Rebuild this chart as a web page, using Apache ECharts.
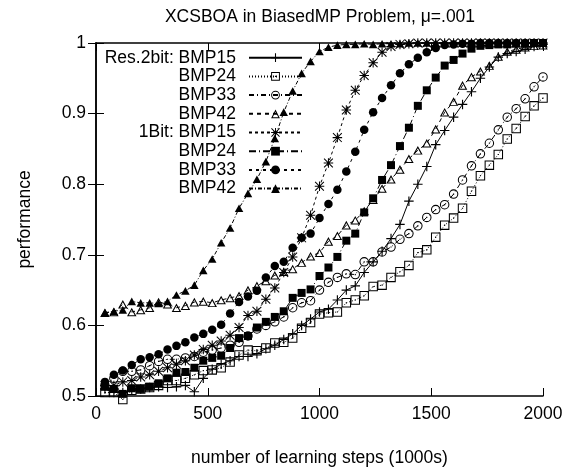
<!DOCTYPE html>
<html><head><meta charset="utf-8">
<script src="https://cdn.jsdelivr.net/npm/echarts@6/dist/echarts.min.js"></script>
<style>html,body{margin:0;padding:0;background:#fff}#c{width:575px;height:472px}</style>
</head><body><div id="c"></div>
<script>
const titleText = 'XCSBOA in BiasedMP Problem, \u03bc=.001';
const xName = 'number of learning steps (1000s)';
const yName = 'performance';
const xs = [40,80,120,160,200,240,280,320,360,400,440,480,520,560,600,640,680,720,760,800,840,880,920,960,1000,1040,1080,1120,1160,1200,1240,1280,1320,1360,1400,1440,1480,1520,1560,1600,1640,1680,1720,1760,1800,1840,1880,1920,1960,2000];
const seriesNames = ['Res.2bit: BMP15','Res.2bit: BMP24','Res.2bit: BMP33','Res.2bit: BMP42','1Bit: BMP15','1Bit: BMP24','1Bit: BMP33','1Bit: BMP42'];
const legendLabels = ['Res.2bit: BMP15','BMP24','BMP33','BMP42','1Bit: BMP15','BMP24','BMP33','BMP42'];
const res2_bmp15 = [0.510,0.505,0.505,0.508,0.510,0.512,0.513,0.512,0.513,0.515,
0.506,0.525,0.538,0.545,0.550,0.556,0.556,0.560,0.567,0.572,
0.580,0.588,0.600,0.609,0.619,0.623,0.636,0.650,0.656,0.675,
0.690,0.705,0.723,0.743,0.776,0.800,0.825,0.856,0.876,0.895,
0.913,0.931,0.950,0.966,0.980,0.985,0.988,0.991,0.995,0.998];
const res2_bmp24 = [0.505,0.505,0.495,0.508,0.510,0.512,0.515,0.522,0.522,0.525,
0.530,0.536,0.537,0.540,0.548,0.558,0.565,0.564,0.568,0.575,
0.576,0.582,0.596,0.604,0.616,0.618,0.619,0.632,0.636,0.642,
0.655,0.657,0.668,0.676,0.685,0.703,0.707,0.725,0.742,0.752,
0.766,0.790,0.812,0.827,0.842,0.864,0.879,0.896,0.911,0.922];
const res2_bmp33 = [0.515,0.525,0.535,0.535,0.537,0.543,0.549,0.552,0.552,0.554,
0.556,0.562,0.565,0.568,0.572,0.576,0.585,0.595,0.600,0.605,
0.612,0.625,0.632,0.635,0.650,0.661,0.668,0.673,0.672,0.690,
0.690,0.704,0.711,0.722,0.730,0.741,0.753,0.764,0.771,0.786,
0.806,0.826,0.843,0.858,0.877,0.895,0.907,0.921,0.938,0.952];
const res2_bmp42 = [0.618,0.619,0.630,0.619,0.622,0.625,0.633,0.630,0.625,0.628,
0.633,0.634,0.632,0.636,0.639,0.642,0.650,0.656,0.663,0.671,
0.676,0.680,0.689,0.698,0.703,0.719,0.727,0.742,0.749,0.762,
0.778,0.794,0.807,0.821,0.836,0.848,0.858,0.878,0.902,0.917,
0.940,0.952,0.960,0.968,0.981,0.988,0.991,0.994,0.996,0.997];
const bit1_bmp15 = [0.515,0.515,0.520,0.522,0.527,0.530,0.535,0.540,0.545,0.550,
0.558,0.566,0.572,0.578,0.586,0.597,0.614,0.620,0.637,0.653,
0.675,0.697,0.724,0.756,0.797,0.830,0.866,0.905,0.933,0.954,
0.972,0.987,0.995,0.998,0.999,1,1,1,1,1,
1,1,1,1,1,1,1,1,1,1];
const bit1_bmp24 = [0.513,0.510,0.503,0.511,0.510,0.513,0.518,0.525,0.533,0.534,
0.540,0.550,0.554,0.557,0.568,0.582,0.585,0.597,0.605,0.612,
0.620,0.639,0.646,0.651,0.670,0.682,0.697,0.720,0.730,0.760,
0.780,0.806,0.827,0.854,0.880,0.911,0.933,0.951,0.968,0.976,
0.985,0.992,0.996,0.997,0.998,0.998,0.999,0.999,1,1];
const bit1_bmp33 = [0.520,0.530,0.536,0.544,0.552,0.555,0.559,0.566,0.571,0.576,
0.583,0.588,0.594,0.601,0.617,0.633,0.641,0.649,0.668,0.684,
0.690,0.710,0.724,0.730,0.752,0.772,0.792,0.818,0.846,0.877,
0.902,0.922,0.940,0.957,0.970,0.979,0.987,0.993,0.997,0.998,
0.999,0.999,1,1,1,1,1,1,1,1];
const bit1_bmp42 = [0.618,0.620,0.622,0.634,0.632,0.632,0.631,0.634,0.643,0.649,
0.657,0.678,0.694,0.717,0.738,0.766,0.787,0.807,0.832,0.865,
0.902,0.932,0.957,0.974,0.988,0.994,0.997,0.998,0.998,0.999,
0.998,0.999,0.999,0.999,1,1,1,1,1,1,
1,1,1,1,1,1,1,1,1,1];
const yTicks = [0.5,0.6,0.7,0.8,0.9,1];
const xTicks = [0,500,1000,1500,2000];

const allData = [res2_bmp15,res2_bmp24,res2_bmp33,res2_bmp42,bit1_bmp15,bit1_bmp24,bit1_bmp33,bit1_bmp42];

const P_PLUS = 'path://M4.4,0 h1.2 v4.4 h4.4 v1.2 h-4.4 v4.4 h-1.2 v-4.4 h-4.4 v-1.2 h4.4 Z';
const P_STAR = 'path://M4.45,0 h1.1 v4.45 h4.45 v1.1 h-4.45 v4.45 h-1.1 v-4.45 h-4.45 v-1.1 h4.45 Z M0.75,0 L10,9.25 L9.25,10 L0,0.75 Z M9.25,0 L10,0.75 L0.75,10 L0,9.25 Z';
const P_OSQ = 'path://M0,0 H10 V10 H0 Z M1.1,1.1 V8.9 H8.9 V1.1 Z M4.4,4.4 H5.6 V5.6 H4.4 Z';
const P_OCIR = 'path://M5,0 A5,5 0 1,1 5,10 A5,5 0 1,1 5,0 Z M5,1.1 A3.9,3.9 0 1,0 5,8.9 A3.9,3.9 0 1,0 5,1.1 Z M4.4,4.4 H5.6 V5.6 H4.4 Z';
const P_OTRI = 'path://M5,0 L10,9 L0,9 Z M5,2.3 L1.9,8 L8.1,8 Z';
const P_FTRI = 'path://M5,0 L10,9 L0,9 Z';

const styles = [
  {symbol: P_PLUS, size: 9.5, dash: 'solid'},
  {symbol: P_OSQ, size: 9.5, dash: [1,2]},
  {symbol: P_OCIR, size: 9.5, dash: [5,3,1,3]},
  {symbol: P_OTRI, size: 9.5, dash: [4,4]},
  {symbol: P_STAR, size: 9.5, dash: [3,3]},
  {symbol: 'rect', size: 8, dash: [7,3,1,3]},
  {symbol: 'circle', size: 8.5, dash: [3,4]},
  {symbol: P_FTRI, size: 8.5, dash: [4,2,1,2]}
];

const FONT = 'Liberation Sans';
const FS = 17.5;
const series = seriesNames.map((n, i) => ({
  name: n,
  type: 'line',
  data: xs.map((x, k) => [x, allData[i][k]]),
  symbol: styles[i].symbol,
  symbolSize: styles[i].size,
  symbolKeepAspect: true,
  showSymbol: true,
  clip: false,
  animation: false,
  itemStyle: {color: '#000'},
  lineStyle: {color: '#000', width: 1, type: styles[i].dash},
  emphasis: {disabled: true}
}));

const axisCommon = {
  axisLine: {show: true, lineStyle: {color: '#000', width: 1.5}},
  axisTick: {show: true, inside: true, length: 8, lineStyle: {color: '#000', width: 1}},
  splitLine: {show: false}
};

const chart = echarts.init(document.getElementById('c'), null, {renderer: 'canvas'});
chart.setOption({
  animation: false,
  backgroundColor: '#fff',
  grid: {left: 96, right: 32, top: 43, bottom: 76},
  graphic: [{type: 'text', x: 320, y: 17, style: {text: titleText, font: FS + 'px "' + FONT + '"', fill: '#000', align: 'center', verticalAlign: 'middle'}}],
  legend: {
    orient: 'vertical', align: 'right', right: 272, top: 48.7, padding: 0,
    itemWidth: 53, itemHeight: 11, itemGap: 0.7,
    data: seriesNames,
    formatter: (name) => legendLabels[seriesNames.indexOf(name)],
    textStyle: {fontFamily: FONT, fontSize: FS, color: '#000', lineHeight: 16, padding: [0, 8, 0, 0]},
    selectedMode: false
  },
  xAxis: [
    Object.assign({type: 'value', min: 0, max: 2000, interval: 500, position: 'bottom',
     name: xName, nameLocation: 'middle', nameGap: 53,
     nameTextStyle: {fontFamily: FONT, fontSize: FS, color: '#000'},
     axisLabel: {fontFamily: FONT, fontSize: FS, color: '#000', margin: 9, formatter: (v) => String(v)}}, axisCommon),
    Object.assign({type: 'value', min: 0, max: 2000, interval: 500, position: 'top',
     axisLabel: {show: false}}, axisCommon)
  ],
  yAxis: [
    Object.assign({type: 'value', min: 0.5, max: 1, interval: 0.1, position: 'left',
     name: yName, nameLocation: 'middle', nameGap: 62,
     nameTextStyle: {fontFamily: FONT, fontSize: FS, color: '#000'},
     axisLabel: {fontFamily: FONT, fontSize: FS, color: '#000', margin: 10, formatter: (v) => String(+v.toFixed(1))}}, axisCommon),
    Object.assign({type: 'value', min: 0.5, max: 1, interval: 0.1, position: 'right',
     axisLabel: {show: false}}, axisCommon)
  ],
  series: series
});
</script></body></html>
